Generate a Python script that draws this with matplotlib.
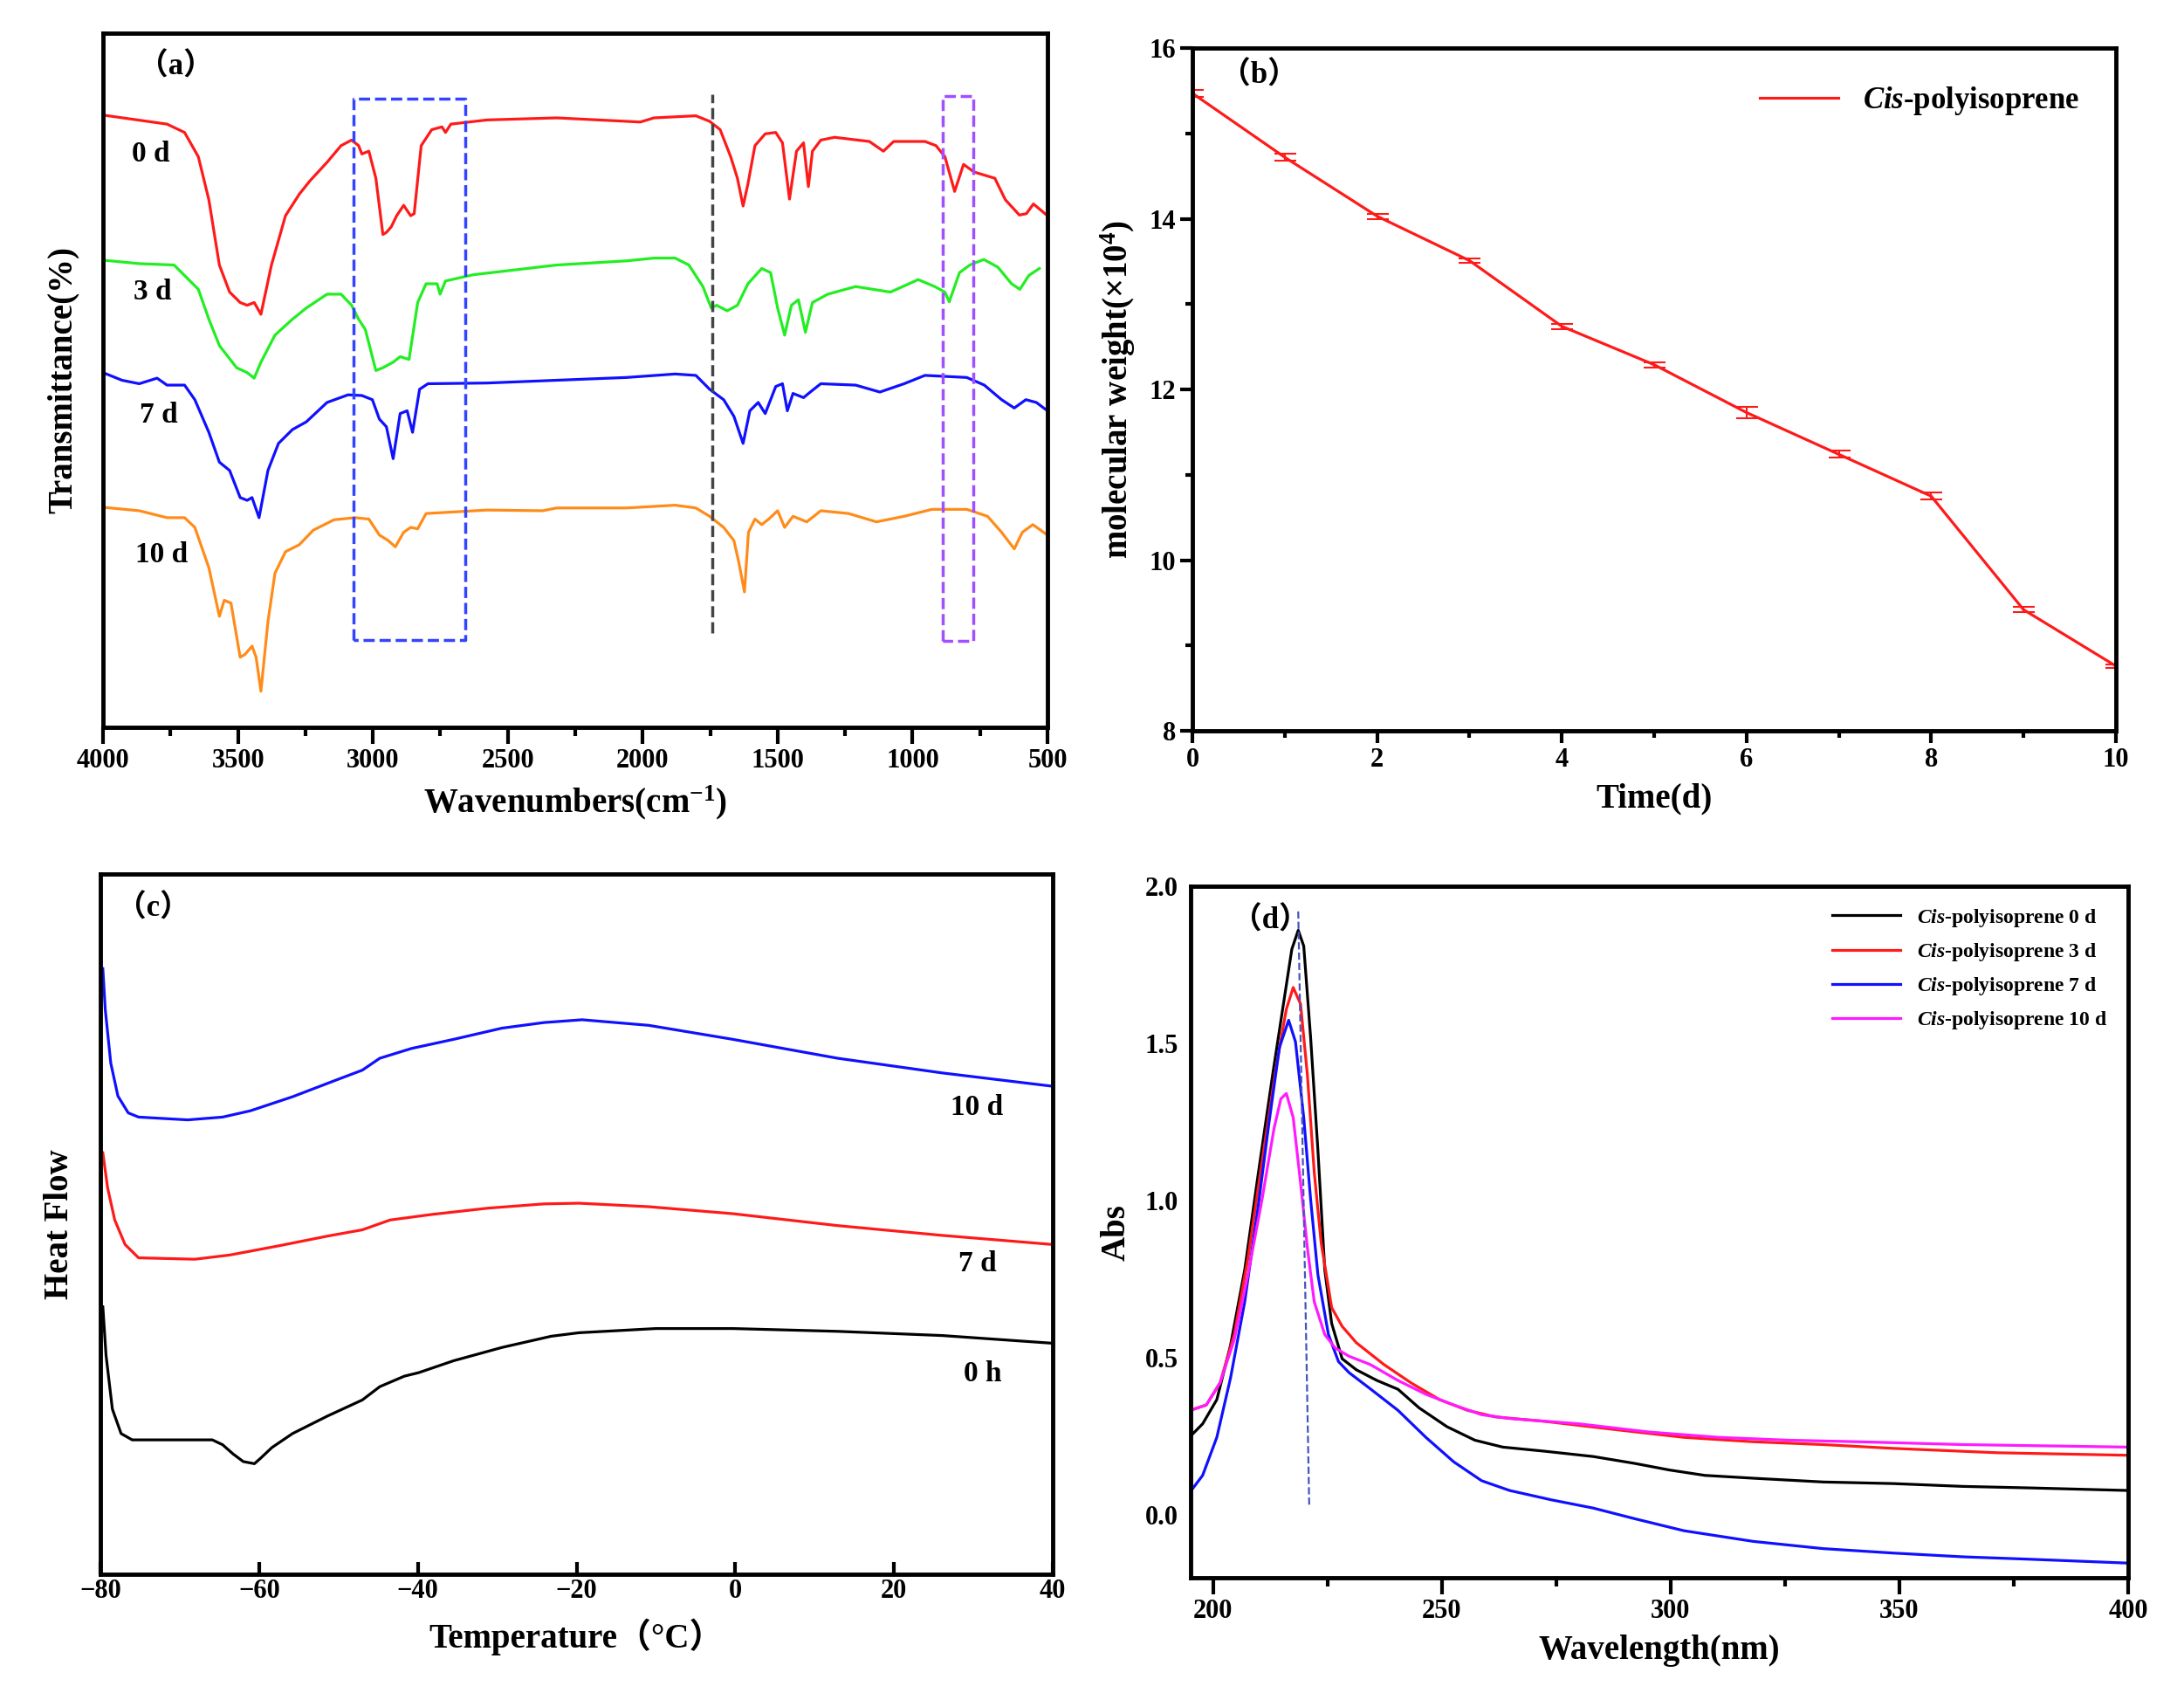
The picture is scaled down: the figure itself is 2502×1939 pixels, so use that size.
import numpy as np
import matplotlib
matplotlib.use("Agg")
import matplotlib.pyplot as plt

plt.rcParams['font.family'] = ['Liberation Serif', 'Noto Sans CJK SC', 'DejaVu Sans']
plt.rcParams['font.weight'] = 'bold'
plt.rcParams['axes.labelweight'] = 'bold'
plt.rcParams['mathtext.fontset'] = 'custom'
plt.rcParams['mathtext.rm'] = 'Liberation Serif:bold'
plt.rcParams['mathtext.bf'] = 'Liberation Serif:bold'
plt.rcParams['mathtext.it'] = 'Liberation Serif:italic:bold'
plt.rcParams['mathtext.default'] = 'rm'

# ---------------- (a) FTIR ----------------
ftir_0d_x = [4000, 3763, 3698, 3647, 3608, 3569, 3531, 3492, 3466, 3440, 3415, 3376, 3324, 3273, 3234,
             3170, 3118, 3079, 3053, 3041, 3015, 2989, 2963, 2950, 2932, 2912, 2886, 2860, 2847, 2821,
             2782, 2744, 2731, 2711, 2577, 2319, 2060, 2009, 1958, 1803, 1752, 1713, 1674, 1649, 1628,
             1610, 1584, 1546, 1507, 1482, 1456, 1430, 1404, 1386, 1371, 1340, 1289, 1160, 1108, 1070,
             954, 913, 880, 844, 811, 772, 695, 656, 604, 578, 552, 500]
ftir_0d_y = [88.2, 86.9, 85.7, 82.2, 76.0, 66.6, 62.7, 61.2, 60.8, 61.2, 59.5, 66.6, 73.7, 76.8, 78.7,
             81.4, 83.8, 84.6, 83.8, 82.6, 83.0, 79.1, 71.0, 71.3, 72.1, 73.7, 75.2, 73.7, 74.0, 83.8,
             86.1, 86.5, 85.7, 86.9, 87.5, 87.8, 87.3, 87.2, 87.8, 88.1, 87.3, 86.1, 82.2, 79.1, 75.1,
             78.3, 83.8, 85.5, 85.7, 84.2, 76.1, 83.0, 84.2, 77.9, 83.0, 84.6, 85.0, 84.4, 83.0, 84.4,
             84.4, 83.8, 82.2, 77.2, 81.1, 80.0, 79.1, 76.0, 73.8, 74.0, 75.4, 73.7]

ftir_3d_x = [4000, 3866, 3737, 3647, 3608, 3569, 3505, 3466, 3440, 3415, 3363, 3298, 3247, 3170, 3118,
             3079, 3053, 3028, 2989, 2963, 2925, 2899, 2866, 2834, 2803, 2762, 2751, 2731, 2628, 2319,
             2060, 1958, 1880, 1829, 1777, 1746, 1726, 1687, 1649, 1610, 1559, 1526, 1500, 1474, 1449,
             1423, 1397, 1371, 1314, 1211, 1082, 979, 918, 880, 864, 826, 788, 736, 684, 633, 602, 569, 530]
ftir_3d_y = [67.3, 66.8, 66.6, 63.1, 58.8, 55.0, 51.8, 51.1, 50.3, 52.6, 56.5, 58.8, 60.4, 62.4, 62.4,
             60.8, 58.8, 57.3, 51.4, 51.8, 52.6, 53.4, 53.0, 61.2, 63.9, 63.9, 62.4, 64.3, 65.2, 66.6,
             67.2, 67.6, 67.6, 66.6, 63.5, 60.4, 60.8, 60.0, 60.8, 63.9, 66.1, 65.5, 60.4, 56.5, 60.8,
             61.6, 56.9, 61.2, 62.4, 63.5, 62.7, 64.5, 63.5, 62.7, 61.3, 65.5, 66.6, 67.4, 66.3, 63.9, 63.1, 65.1, 66.1]

ftir_7d_x = [4000, 3930, 3866, 3800, 3763, 3698, 3660, 3608, 3569, 3531, 3492, 3466, 3448, 3422, 3389,
             3350, 3298, 3247, 3170, 3092, 3041, 3002, 2976, 2950, 2925, 2899, 2873, 2853, 2827, 2796,
             2577, 2319, 2060, 1880, 1803, 1752, 1700, 1662, 1628, 1603, 1572, 1546, 1507, 1482, 1464,
             1443, 1404, 1379, 1340, 1211, 1121, 1031, 954, 799, 734, 670, 623, 580, 541, 500]
ftir_7d_y = [51.1, 50.0, 49.5, 50.3, 49.3, 49.3, 47.2, 42.5, 38.2, 37.0, 33.1, 32.7, 33.1, 30.2, 37.0,
             40.9, 42.9, 44.0, 46.8, 47.9, 47.8, 47.2, 44.4, 43.3, 38.7, 45.2, 45.6, 42.5, 48.7, 49.5,
             49.6, 50.0, 50.4, 50.9, 50.7, 48.7, 47.2, 44.8, 40.9, 45.6, 46.8, 45.2, 49.1, 49.5, 45.6,
             48.1, 47.5, 48.3, 49.5, 49.3, 48.3, 49.5, 50.7, 50.4, 49.3, 47.2, 46.0, 47.2, 46.8, 45.6]

ftir_10d_x = [4000, 3866, 3763, 3698, 3660, 3608, 3569, 3551, 3526, 3492, 3474, 3448, 3433, 3415, 3389,
              3363, 3324, 3273, 3221, 3144, 3066, 3015, 2976, 2943, 2917, 2886, 2860, 2834, 2803, 2577,
              2371, 2319, 2060, 1880, 1803, 1752, 1700, 1662, 1644, 1623, 1608, 1584, 1559, 1533, 1500,
              1474, 1443, 1392, 1340, 1237, 1134, 1031, 928, 799, 722, 670, 623, 593, 554, 500]
ftir_10d_y = [31.7, 31.2, 30.2, 30.2, 28.8, 23.0, 16.0, 18.3, 17.9, 10.1, 10.5, 11.7, 10.1, 5.2, 15.2,
              22.2, 25.3, 26.3, 28.4, 29.9, 30.2, 30.0, 27.7, 26.9, 26.0, 28.1, 28.8, 28.6, 30.8, 31.3,
              31.2, 31.6, 31.6, 32.0, 31.6, 30.4, 28.8, 26.9, 23.8, 19.5, 28.1, 30.0, 29.2, 30.0, 31.2,
              28.8, 30.4, 29.6, 31.2, 30.8, 29.6, 30.4, 31.4, 31.4, 30.4, 28.1, 25.7, 28.1, 29.2, 27.7]

ftir_labels = ['0 d', '3 d', '7 d', '10 d']
ftir_label_pos = [(3892, 82.6), (3887, 62.7), (3866, 45.0), (3879, 24.9)]

# ---------------- (b) molecular weight ----------------
days = [0, 1, 2, 3, 4, 5, 6, 7, 8, 9, 10]
mol_weight = [15.47, 14.72, 14.03, 13.51, 12.74, 12.29, 11.73, 11.24, 10.75, 9.42, 8.76]
mol_err = [0.04, 0.04, 0.03, 0.03, 0.03, 0.03, 0.07, 0.04, 0.04, 0.03, 0.02]

# ---------------- (c) DSC ----------------
dsc_10d_t = [-79.7, -79.4, -78.7, -77.8, -76.5, -75.2, -69, -64.6, -61.1, -55.8, -50.5, -47, -44.8,
             -40.8, -35.5, -29.4, -24.1, -19.3, -10.9, -0.3, 12.9, 26.1, 40]
dsc_10d_v = [86.5, 80.7, 73.0, 68.3, 65.9, 65.3, 64.9, 65.3, 66.2, 68.2, 70.5, 72.0, 73.7,
             75.1, 76.4, 78.0, 78.8, 79.2, 78.4, 76.4, 73.7, 71.6, 69.7]
dsc_7d_t = [-79.7, -79.1, -78.2, -76.9, -75.2, -68.1, -63.7, -57.6, -51.4, -47, -43.5, -38.2, -31.1,
            -24.1, -19.7, -10.9, -0.3, 12.9, 26.1, 40]
dsc_7d_v = [60.2, 55.2, 50.6, 47.1, 45.2, 45.0, 45.6, 46.9, 48.3, 49.2, 50.6, 51.4, 52.3,
            52.9, 53.0, 52.5, 51.5, 49.8, 48.4, 47.1]
dsc_0h_t = [-79.7, -79.3, -78.5, -77.4, -76, -70.8, -65.9, -64.6, -63.3, -62, -60.6, -59.8, -58.4,
            -55.8, -51.4, -47, -44.8, -41.7, -39.9, -35.5, -29.4, -23.2, -19.7, -10, -0.3, 12.9, 26.1, 40]
dsc_0h_v = [38.2, 31.3, 23.6, 20.1, 19.2, 19.2, 19.2, 18.5, 17.2, 16.1, 15.8, 16.6, 18.1,
            20.1, 22.6, 24.9, 26.8, 28.3, 28.8, 30.5, 32.4, 34.0, 34.5, 35.1, 35.1, 34.7, 34.1, 33.0]
dsc_labels = ['10 d', '7 d', '0 h']
dsc_label_pos = [(30.5, 66.6), (30.5, 44.4), (31.2, 28.6)]

# ---------------- (d) UV ----------------
uv_0d_x = [195, 197.7, 200.8, 203.8, 206.9, 209.9, 213, 215.2, 217.2, 218.6, 219.8, 221.3, 222.9, 224.4,
           225.9, 228.2, 231.3, 235.8, 240.4, 245, 251.1, 257.2, 263.3, 272.4, 283.1, 292.2, 299.8,
           307.5, 318.1, 333.4, 348.6, 363.9, 379.1, 400]
uv_0d_y = [0.25, 0.29, 0.367, 0.54, 0.78, 1.09, 1.40, 1.61, 1.80, 1.86, 1.81, 1.52, 1.16, 0.78,
           0.61, 0.497, 0.462, 0.428, 0.40, 0.341, 0.281, 0.238, 0.216, 0.203, 0.186, 0.164, 0.143,
           0.126, 0.117, 0.105, 0.10, 0.091, 0.086, 0.078]
uv_3d_x = [195, 198.5, 201.5, 204.6, 207.6, 210.7, 213.7, 216, 217.5, 219.1, 220.6, 222.1, 223.6, 225.9,
           228.2, 231.3, 237.3, 243.4, 249.5, 255.6, 261.7, 272.4, 287.7, 302.9, 318.1, 333.4, 348.6,
           371.5, 400]
uv_3d_y = [0.333, 0.35, 0.42, 0.574, 0.816, 1.126, 1.419, 1.609, 1.678, 1.626, 1.40, 1.09, 0.867, 0.66,
           0.60, 0.548, 0.479, 0.419, 0.367, 0.333, 0.312, 0.298, 0.272, 0.247, 0.233, 0.224, 0.212,
           0.198, 0.19]
uv_7d_x = [195, 197.7, 200.8, 203.8, 206.9, 209.9, 212.2, 214.5, 216.5, 218, 219.8, 221.3, 222.9, 225.2,
           227.4, 229.7, 234.3, 240.4, 246.5, 252.6, 258.7, 264.8, 274, 283.1, 292.2, 302.9, 318.1,
           333.4, 348.6, 363.9, 379.1, 400]
uv_7d_y = [0.074, 0.126, 0.247, 0.436, 0.678, 0.988, 1.247, 1.488, 1.574, 1.505, 1.264, 1.005, 0.764, 0.574,
           0.488, 0.453, 0.402, 0.333, 0.247, 0.169, 0.109, 0.078, 0.048, 0.022, -0.012, -0.05, -0.084,
           -0.107, -0.121, -0.133, -0.141, -0.153]
uv_10d_x = [195, 198.5, 201.5, 204.6, 207.6, 210.7, 213.3, 214.8, 216, 217.5, 219.1, 220.6, 222.1, 224.4,
            226.7, 229.7, 234.3, 240.4, 246.5, 252.6, 258.7, 264.8, 280, 295.3, 310.5, 325.7, 341,
            363.9, 400]
uv_10d_y = [0.333, 0.35, 0.42, 0.557, 0.764, 1.005, 1.229, 1.324, 1.341, 1.264, 1.057, 0.85, 0.678, 0.574,
            0.531, 0.505, 0.479, 0.428, 0.384, 0.35, 0.319, 0.307, 0.29, 0.264, 0.247, 0.238, 0.233,
            0.224, 0.216]
uv_labels = ['0 d', '3 d', '7 d', '10 d']

TICK = 22
LAB = 28
SPINE = 3.5
LW = 2.3

fig = plt.figure(figsize=(25.02, 19.39), dpi=100)


def style(ax):
    for s in ax.spines.values():
        s.set_linewidth(SPINE)
    ax.tick_params(labelsize=TICK, width=3)


def panel_tag(ax, x, y, s):
    ax.text(x, y, '（' + s + '）', fontsize=25, fontweight='bold', ha='left', va='center',
            family=['Liberation Serif', 'Noto Sans CJK SC'])


# (a)
ax = fig.add_axes([0.0472, 0.5704, 0.4324, 0.41])
style(ax)
for xs, ys, c in [(ftir_0d_x, ftir_0d_y, '#ff1a1a'), (ftir_3d_x, ftir_3d_y, '#22ee22'),
                  (ftir_7d_x, ftir_7d_y, '#1010ff'), (ftir_10d_x, ftir_10d_y, '#ff8c1a')]:
    ax.plot(xs, ys, color=c, lw=LW)
for lab, (x, y) in zip(ftir_labels, ftir_label_pos):
    ax.text(x, y, lab, fontsize=24, fontweight='bold', ha='left', va='center')
ax.plot([3072, 3072, 2659, 2659, 3072], [12.6, 90.6, 90.6, 12.6, 12.6], ls='--', color='#3344ff', lw=2.5)
ax.plot([1743, 1743], [13.6, 91.2], ls='--', color='#444444', lw=2.5)
ax.plot([887, 887, 776, 776, 887], [12.5, 91.0, 91.0, 12.5, 12.5], ls='--', color='#a050ff', lw=2.5)
ax.set_xlim(4000, 500)
ax.set_ylim(0, 100)
ax.set_xticks(np.arange(4000, 499, -500))
ax.set_xticks(np.arange(3750, 500, -500), minor=True)
ax.tick_params(axis='x', which='major', direction='out', length=14)
ax.tick_params(axis='x', which='minor', direction='out', length=7, width=3)
ax.set_yticks([])
ax.set_xlabel('Wavenumbers(cm$^{-1}$)', fontsize=LAB, labelpad=8)
ax.set_ylabel('Transmittance(%)', fontsize=LAB, labelpad=20)
panel_tag(ax, 3870, 95.1, 'a')

# (b)
ax = fig.add_axes([0.546, 0.5683, 0.4228, 0.4033])
style(ax)
ax.errorbar(days, mol_weight, yerr=mol_err, color='#ff1a1a', lw=LW, capsize=9, elinewidth=1.5,
            capthick=1.5)
ax.plot([], [], color='#ff1a1a', lw=LW, label='$\\mathit{Cis}$-polyisoprene')
ax.set_xlim(0, 10)
ax.set_ylim(8, 16)
ax.set_xticks(np.arange(0, 11, 2))
ax.set_xticks(np.arange(1, 10, 2), minor=True)
ax.set_yticks(np.arange(8, 17, 2))
ax.set_yticks(np.arange(9, 16, 2), minor=True)
ax.tick_params(which='major', direction='out', length=10)
ax.tick_params(which='minor', direction='out', length=6, width=3)
ax.set_xlabel('Time(d)', fontsize=LAB, labelpad=8)
ax.set_ylabel('molecular weight(×10$^{4}$)', fontsize=LAB, labelpad=10)
ax.legend(loc='upper right', frameon=False, fontsize=25, handlelength=2.6, borderaxespad=0.8)
panel_tag(ax, 0.3, 15.67, 'b')

# (c)
ax = fig.add_axes([0.046, 0.0701, 0.436, 0.4136])
style(ax)
ax.plot(dsc_10d_t, dsc_10d_v, color='#1010ff', lw=LW)
ax.plot(dsc_7d_t, dsc_7d_v, color='#ff1a1a', lw=LW)
ax.plot(dsc_0h_t, dsc_0h_v, color='black', lw=LW)
for lab, (x, y) in zip(dsc_labels, dsc_label_pos):
    ax.text(x, y, lab, fontsize=24, fontweight='bold', ha='center', va='center')
ax.set_xlim(-80, 40)
ax.set_ylim(0, 100)
ax.set_xticks(np.arange(-80, 41, 20))
ax.tick_params(axis='x', direction='in', length=10)
ax.set_yticks([])
ax.set_xlabel('Temperature（°C）', fontsize=LAB, labelpad=12)
ax.set_ylabel('Heat Flow', fontsize=LAB, labelpad=20)
panel_tag(ax, -78, 95, 'c')

# (d)
ax = fig.add_axes([0.545, 0.068, 0.4294, 0.4085])
style(ax)
for xs, ys, c, lab in [(uv_0d_x, uv_0d_y, 'black', uv_labels[0]), (uv_3d_x, uv_3d_y, '#ff1a1a', uv_labels[1]),
                       (uv_7d_x, uv_7d_y, '#1010ff', uv_labels[2]), (uv_10d_x, uv_10d_y, '#ff1aff', uv_labels[3])]:
    ax.plot(xs, ys, color=c, lw=LW, label='$\\mathit{Cis}$-polyisoprene ' + lab)
ax.plot([218.6, 221.0], [1.92, 0.03], ls='--', color='#4455bb', lw=1.6)
ax.set_xlim(195, 400)
ax.set_ylim(-0.2, 2.0)
ax.set_xticks(np.arange(200, 401, 50))
ax.set_xticks(np.arange(225, 400, 50), minor=True)
ax.set_yticks(np.arange(0, 2.01, 0.5))
ax.tick_params(axis='x', which='major', direction='out', length=14)
ax.tick_params(axis='x', which='minor', direction='out', length=7, width=3)
ax.tick_params(axis='y', length=0, pad=10)
ax.yaxis.set_major_formatter(matplotlib.ticker.FormatStrFormatter('%.1f'))
ax.set_xlabel('Wavelength(nm)', fontsize=LAB, labelpad=8)
ax.set_ylabel('Abs', fontsize=LAB, labelpad=10)
ax.legend(loc='upper right', frameon=False, fontsize=17, handlelength=3.3, labelspacing=0.6,
          borderaxespad=0.6)
panel_tag(ax, 204, 1.89, 'd')

fig.savefig('out.png', dpi=100)
